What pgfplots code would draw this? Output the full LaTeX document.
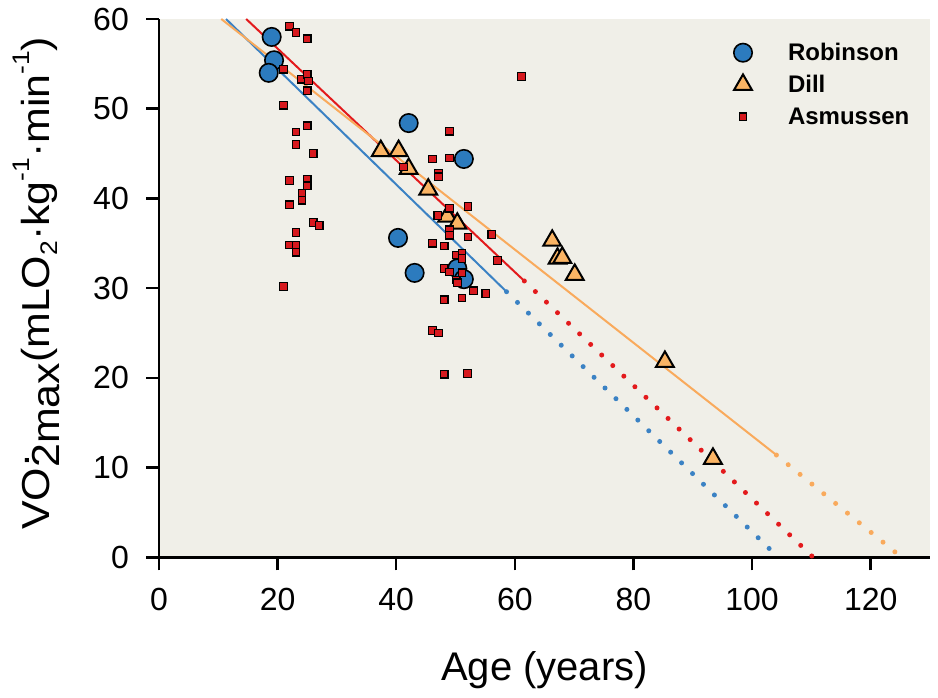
\documentclass[border=0pt]{standalone}
\usepackage{pgfplots}
\pgfplotsset{compat=1.18}
\usepackage{fontspec}
\setmainfont{Liberation Sans}
\definecolor{bgc}{RGB}{240,239,232}
\definecolor{rob}{RGB}{44,123,190}
\definecolor{dil}{RGB}{250,180,100}
\definecolor{asm}{RGB}{215,25,30}
\definecolor{lblue}{RGB}{59,130,196}
\definecolor{lred}{RGB}{227,26,28}
\definecolor{lorange}{RGB}{249,170,92}

\pgfplotstableread{
x y
19.0 58.0
19.4 55.4
18.5 54.0
42.1 48.4
51.4 44.4
40.3 35.6
43.1 31.7
50.3 32.2
51.4 31.0
}\robinson

\pgfplotstableread{
x y
37.4 45.3
40.4 45.3
42.1 43.3
45.4 41.0
48.6 38.0
50.3 37.2
66.3 35.3
67.2 33.3
68.0 33.4
70.1 31.5
85.3 21.8
93.4 11.0
}\dill

\pgfplotstableread{
x y
22.0 59.2
23.1 58.5
25.0 57.8
21.0 54.4
24.0 53.3
25.0 53.8
25.2 53.1
25.0 52.0
21.0 50.4
25.0 48.1
23.1 47.4
23.1 46.0
26.0 45.0
22.0 42.0
25.0 42.1
25.0 41.4
24.1 40.6
24.1 39.8
22.0 39.3
26.0 37.3
27.0 37.0
23.1 36.2
22.0 34.8
23.1 34.8
23.1 34.0
21.0 30.2
49.0 47.5
46.1 44.4
49.0 44.5
41.2 43.5
47.1 42.8
47.1 42.4
49.0 38.9
52.1 39.1
47.0 38.1
49.0 36.5
49.0 35.9
52.1 35.7
56.1 36.0
46.1 35.0
48.1 34.7
50.1 33.7
51.1 33.9
51.1 33.3
57.1 33.1
48.1 32.2
49.0 31.8
51.1 31.7
50.1 30.9
50.3 30.6
53.0 29.7
55.1 29.4
48.1 28.7
51.1 28.9
46.1 25.3
47.1 25.0
48.1 20.4
52.0 20.5
61.1 53.6
}\asmussen

\pgfplotsset{
  myleg/.style={legend image code/.code={%
    \pgfpathrectangle{\pgfpoint{-12bp}{-16bp}}{\pgfpoint{57bp}{32bp}}%
    \pgfusepath{use as bounding box}%
    \draw[mark repeat=2, mark phase=2, ##1] plot coordinates {(-1bp,0bp) (0bp,0bp) (1bp,0bp)};}},
  dotline/.style={line width=5bp, line cap=round, dash pattern=on 0bp off 15.3bp},
  robst/.style={only marks, mark=*, mark size=9.2bp,
    mark options={solid, fill=rob, draw=black, line width=1.6bp}},
  dilst/.style={only marks, mark=triangle*, mark size=10.3bp,
    mark options={solid, fill=dil, draw=black, line width=2bp}},
  asmst/.style={only marks, mark=square*, mark size=3.8bp,
    mark options={solid, fill=asm, draw=black, line width=1.2bp}},
}

\begin{document}
\begin{tikzpicture}
\begin{axis}[
  scale only axis, width=771bp, height=538.3bp,
  xmin=0, xmax=130, ymin=0, ymax=60,
  axis x line*=bottom, axis y line*=left,
  axis line style={line width=2.7bp, black},
  axis background/.style={fill=bgc},
  xtick={0,20,...,120}, ytick={0,10,...,60},
  tick align=outside, major tick length=13bp,
  tick style={line width=2.5bp, black},
  /pgf/number format/assume math mode=true,
  tick label style={font=\fontsize{32bp}{36bp}\selectfont, inner sep=0pt},
  xticklabel style={yshift=-18bp},
  yticklabel style={xshift=-17bp},
  xlabel={Age (years)},
  xlabel style={at={(axis description cs:0.5,0)}, anchor=base, yshift=-122.7bp,
    font=\fontsize{40bp}{44bp}\selectfont, inner sep=0pt},
  ylabel={\scalebox{1.1}[1]{VO\makebox[0pt][l]{\kern0.04em\raisebox{0.52em}{.}}\raisebox{-0.27em}{2max}(mLO\raisebox{-0.22em}{\fontsize{24bp}{24bp}\selectfont 2}·kg\raisebox{0.5em}{\fontsize{24bp}{24bp}\selectfont -1}·min\raisebox{0.5em}{\fontsize{24bp}{24bp}\selectfont -1})}},
  ylabel style={at={(axis description cs:-0.1423,0.0507)}, anchor=base west,
    font=\fontsize{39bp}{44bp}\selectfont, inner sep=0pt},
  legend style={at={(rel axis cs:0.7419,0.9671)}, anchor=north west,
    draw=none, fill=none, inner sep=0pt, outer sep=0pt,
    row sep=0pt, column sep=0pt,
    font=\bfseries\fontsize{24bp}{28bp}\selectfont,
    nodes={inner sep=0pt}},
  legend cell align=left,
  clip=false,
]
\addlegendimage{robst, myleg}
\addlegendentry{Robinson}
\addlegendimage{dilst, myleg}
\addlegendentry{Dill}
\addlegendimage{asmst, myleg}
\addlegendentry{Asmussen}
% regression lines
\addplot[lblue, line width=2bp, forget plot] coordinates {(11.3,60) (58.6,29.6)};
\addplot[lblue, dotline, forget plot] coordinates {(58.6,29.6) (104.4,0)};
\addplot[lred, line width=2bp, forget plot] coordinates {(14.7,60) (61.6,30.8)};
\addplot[lred, dotline, forget plot] coordinates {(61.6,30.8) (110.3,0)};
\addplot[lorange, line width=2bp, forget plot] coordinates {(10.5,60) (104.1,11.4)};
\addplot[lorange, dotline, forget plot] coordinates {(104.1,11.4) (125.2,0)};
% data
\addplot[robst, forget plot] table {\robinson};
\addplot[dilst, forget plot] table {\dill};
\addplot[asmst, forget plot] table {\asmussen};
\end{axis}
\pgfresetboundingbox
\path (-159bp,-140.7bp) rectangle (779bp,557.3bp);
\end{tikzpicture}
\end{document}
